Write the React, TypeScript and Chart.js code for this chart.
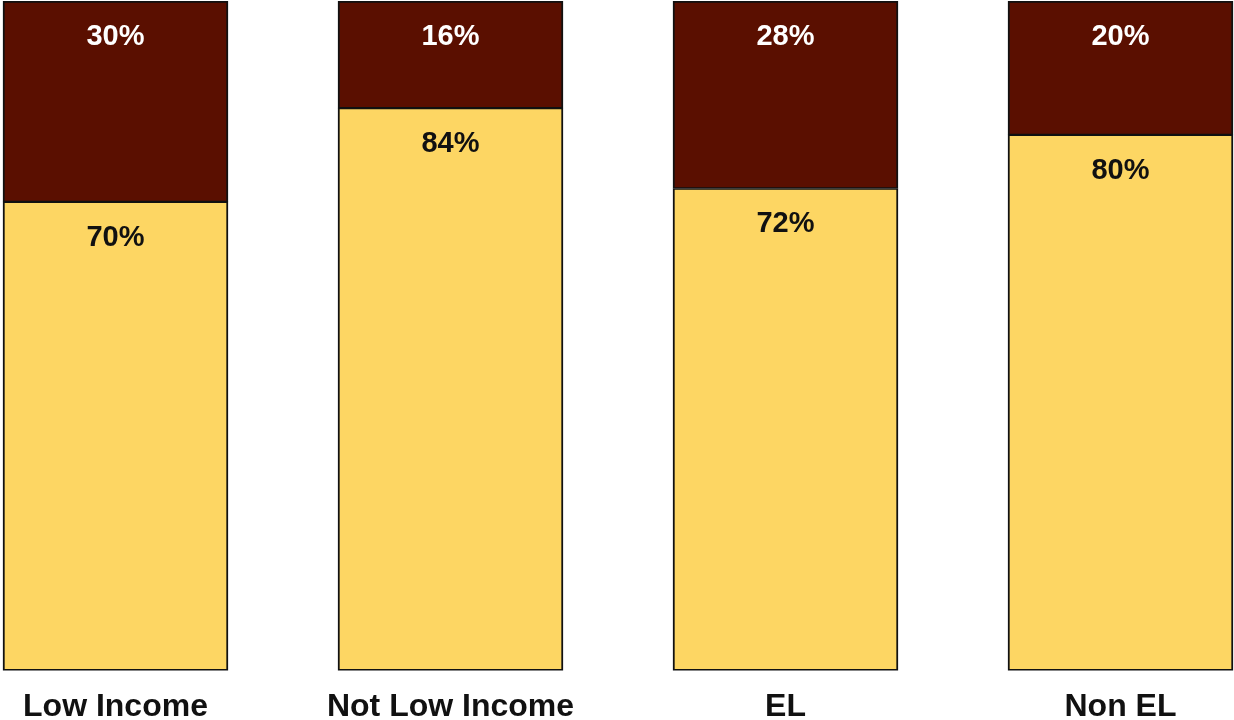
import React, { useEffect, useRef } from "react";
import { Chart, registerables } from "chart.js";

Chart.register(...registerables);

const categories = ["Low Income", "Not Low Income", "EL", "Non EL"];
const bottomValues = [70, 84, 72, 80];
const topValues = [30, 16, 28, 20];

const yellow = "#fdd663";
const maroon = "#5a0f00";
const FONT = "'Liberation Sans', Arial, sans-serif";

const labelPlugin = {
  id: "segLabels",
  afterDatasetsDraw(chart: any) {
    const ctx = chart.ctx;
    ctx.save();
    ctx.font = "bold 29px " + FONT;
    ctx.textAlign = "center";
    ctx.textBaseline = "middle";
    chart.data.datasets.forEach((ds: any, di: number) => {
      const meta = chart.getDatasetMeta(di);
      meta.data.forEach((el: any, i: number) => {
        const top = Math.min(el.y, el.base);
        ctx.fillStyle = di === 1 ? "#ffffff" : "#111111";
        ctx.fillText(ds.data[i] + "%", el.x, top + 36);
      });
    });
    ctx.restore();
  },
};

export default function App() {
  const ref = useRef<HTMLCanvasElement>(null);
  useEffect(() => {
    document.body.style.margin = "0";
    document.body.style.overflow = "hidden";
    const chart = new Chart(ref.current!, {
      type: "bar",
      data: {
        labels: categories,
        datasets: [
          {
            data: bottomValues,
            backgroundColor: yellow,
            borderColor: "#111",
            borderWidth: { top: 1.5, left: 2, right: 2, bottom: 2 },
            borderSkipped: false,
            barThickness: 225,
          },
          {
            data: topValues,
            backgroundColor: maroon,
            borderColor: "#111",
            borderWidth: { top: 2, left: 2, right: 2, bottom: 1.5 },
            borderSkipped: false,
            barThickness: 225,
          },
        ],
      },
      options: {
        animation: false,
        responsive: false,
        layout: { padding: { top: 1, left: 0, right: 0, bottom: 0 } },
        plugins: { legend: { display: false }, tooltip: { enabled: false } },
        scales: {
          x: {
            stacked: true,
            grid: { display: false, drawTicks: false },
            border: { display: false },
            ticks: {
              color: "#111",
              font: { family: FONT, size: 32, weight: "bold", lineHeight: 1.2 },
              padding: 17,
              maxRotation: 0,
            },
          },
          y: {
            stacked: true,
            display: false,
            min: 0,
            max: 100,
          },
        },
      },
      plugins: [labelPlugin],
    });
    return () => chart.destroy();
  }, []);
  return (
    <div style={{ position: "relative", width: 1234, height: 720, overflow: "hidden", background: "#fff" }}>
      <canvas ref={ref} width={1340} height={743} style={{ position: "absolute", left: -52, top: 0, width: 1340, height: 743 }} />
    </div>
  );
}
